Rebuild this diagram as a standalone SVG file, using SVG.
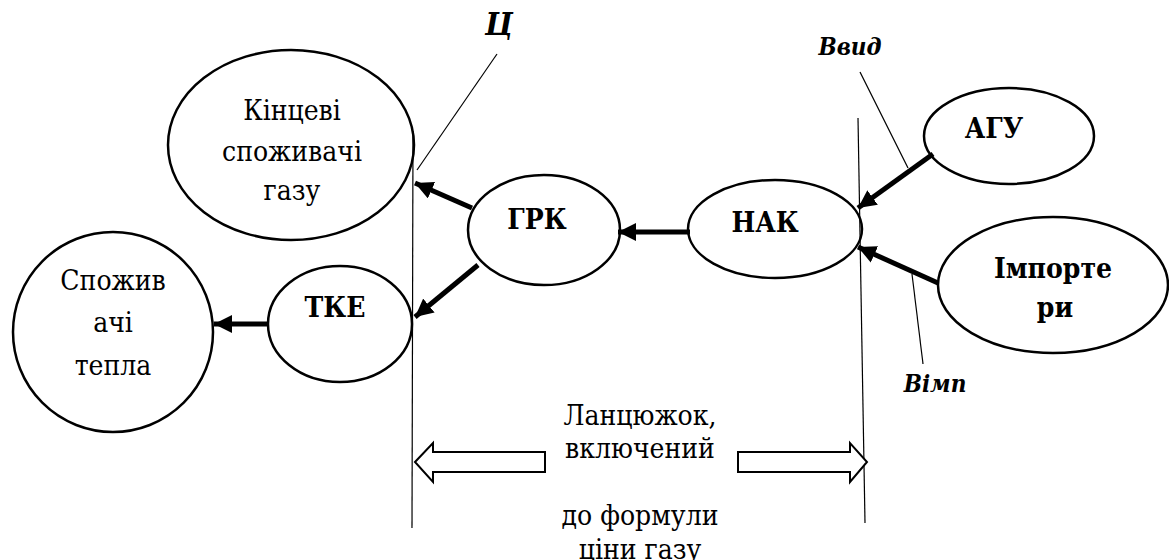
<svg xmlns="http://www.w3.org/2000/svg" width="1169" height="560" viewBox="0 0 1169 560">
<defs>
<style>
.node{fill:#fff;stroke:#000;stroke-width:2.5}
text{font-family:'DejaVu Serif Condensed','DejaVu Serif',serif;font-stretch:condensed;fill:#000;text-anchor:middle}
.t{font-size:28px}
.b{font-size:28px;font-weight:bold}
.bi{font-weight:bold;font-style:italic}
.thin{stroke:#000;stroke-width:1.2;fill:none}
.arr{stroke:#000;stroke-width:5;fill:none;marker-end:url(#ah)}
.block{fill:#fff;stroke:#000;stroke-width:2}
</style>
<marker id="ah" markerUnits="userSpaceOnUse" markerWidth="20" markerHeight="18" refX="18" refY="9" orient="auto">
<path d="M0,0 L18,9 L0,18 z" fill="#000"/>
</marker>
</defs>
<rect width="1169" height="560" fill="#fff"/>

<g id="kintsevi">
<ellipse class="node" cx="291" cy="145" rx="123" ry="95"/>
<text class="t" x="292" y="120">Кінцеві</text>
<text class="t" x="292" y="161">споживачі</text>
<text class="t" x="292" y="200">газу</text>
</g>
<g id="spozhyvachi-tepla">
<ellipse class="node" cx="113" cy="332" rx="100" ry="100"/>
<text class="t" x="113" y="290">Спожив</text>
<text class="t" x="113" y="332">ачі</text>
<text class="t" x="113" y="375">тепла</text>
</g>
<g id="tke">
<ellipse class="node" cx="340" cy="324" rx="72" ry="58"/>
<text class="b" x="335" y="317" font-size="27">ТКЕ</text>
</g>
<g id="grk">
<ellipse class="node" cx="544" cy="230" rx="76" ry="55"/>
<text class="b" x="537" y="229">ГРК</text>
</g>
<g id="nak">
<ellipse class="node" cx="775" cy="229" rx="87" ry="49"/>
<text class="b" x="765" y="232" font-size="29">НАК</text>
</g>
<g id="agu">
<ellipse class="node" cx="1009" cy="136" rx="85" ry="48"/>
<text class="b" x="994" y="138">АГУ</text>
</g>
<g id="importery">
<ellipse class="node" cx="1053" cy="285" rx="115" ry="68"/>
<text class="b" x="1053" y="278">Імпорте</text>
<text class="b" x="1055" y="317">ри</text>
</g>

<g id="connectors">
<line class="thin" x1="413" y1="131" x2="412" y2="528"/>
<line class="thin" x1="858" y1="118" x2="865" y2="523"/>
<line class="thin" x1="497" y1="54" x2="417" y2="170"/>
<line class="thin" x1="860" y1="72" x2="908" y2="168"/>
<line class="thin" x1="912" y1="274" x2="923" y2="364"/>
<line class="arr" x1="472" y1="208" x2="415" y2="183"/>
<line class="arr" x1="478" y1="265" x2="415" y2="317"/>
<line class="arr" x1="690" y1="232" x2="618" y2="232"/>
<line class="arr" x1="269" y1="324" x2="214" y2="324"/>
<line class="arr" x1="933" y1="154" x2="858" y2="208"/>
<line class="arr" x1="938" y1="283" x2="858" y2="247"/>
<polygon class="block" points="415,462 433,443 433,452 545,452 545,472 433,472 433,482"/>
<polygon class="block" points="738,452 850,452 850,443 867,462 850,482 850,472 738,472"/>
</g>

<g id="labels">
<text class="bi" x="499" y="35" font-size="32">Ц</text>
<text class="bi" x="850" y="55" font-size="24">Ввид</text>
<text class="bi" x="935" y="392" font-size="24">Вімп</text>
<text class="t" x="640" y="425">Ланцюжок,</text>
<text class="t" x="640" y="458">включений</text>
<text class="t" x="640" y="525">до формули</text>
<text class="t" x="640" y="559">ціни газу</text>
</g>
</svg>
